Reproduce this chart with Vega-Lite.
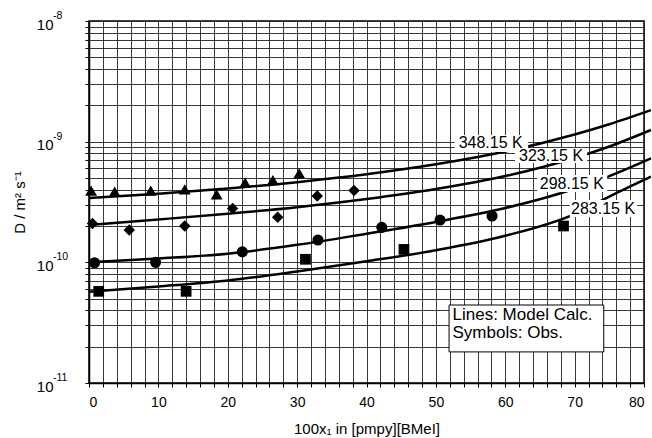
{
  "$schema": "https://vega.github.io/schema/vega-lite/v6.json",
  "width": 555,
  "height": 362,
  "autosize": {"type": "none"},
  "padding": {"left": 89, "top": 21, "right": 8, "bottom": 55},
  "background": "white",
  "config": {
    "font": "Liberation Sans",
    "view": {"stroke": "#000", "strokeWidth": 1.5},
    "axis": {
      "domainColor": "#000", "domainWidth": 1.5,
      "gridColor": "#222", "gridWidth": 1, "gridOpacity": 0.9,
      "tickColor": "#000", "tickSize": 4, "tickWidth": 1,
      "labelFont": "Liberation Sans", "labelFontSize": 14, "labelColor": "#000",
      "labelOverlap": false,
      "titleFont": "Liberation Sans", "titleFontSize": 15, "titleFontWeight": "normal", "titleColor": "#000"
    }
  },
  "datasets": {
    "curves": [
      {"T": "348.15 K", "x": 0, "D": 3.41e-10},
      {"T": "348.15 K", "x": 10, "D": 3.71e-10},
      {"T": "348.15 K", "x": 20, "D": 4.09e-10},
      {"T": "348.15 K", "x": 30, "D": 4.62e-10},
      {"T": "348.15 K", "x": 40, "D": 5.37e-10},
      {"T": "348.15 K", "x": 50, "D": 6.49e-10},
      {"T": "348.15 K", "x": 60, "D": 8.28e-10},
      {"T": "348.15 K", "x": 70, "D": 1.148e-9},
      {"T": "348.15 K", "x": 75, "D": 1.396e-9},
      {"T": "348.15 K", "x": 81, "D": 1.828e-9},
      {"T": "323.15 K", "x": 0, "D": 2.04e-10},
      {"T": "323.15 K", "x": 10, "D": 2.265e-10},
      {"T": "323.15 K", "x": 20, "D": 2.529e-10},
      {"T": "323.15 K", "x": 30, "D": 2.864e-10},
      {"T": "323.15 K", "x": 40, "D": 3.342e-10},
      {"T": "323.15 K", "x": 50, "D": 4.046e-10},
      {"T": "323.15 K", "x": 60, "D": 5.188e-10},
      {"T": "323.15 K", "x": 70, "D": 7.328e-10},
      {"T": "323.15 K", "x": 75, "D": 9.12e-10},
      {"T": "323.15 K", "x": 81, "D": 1.25e-9},
      {"T": "298.15 K", "x": 0, "D": 1.0e-10},
      {"T": "298.15 K", "x": 10, "D": 1.076e-10},
      {"T": "298.15 K", "x": 20, "D": 1.18e-10},
      {"T": "298.15 K", "x": 30, "D": 1.396e-10},
      {"T": "298.15 K", "x": 40, "D": 1.726e-10},
      {"T": "298.15 K", "x": 50, "D": 2.163e-10},
      {"T": "298.15 K", "x": 60, "D": 2.818e-10},
      {"T": "298.15 K", "x": 70, "D": 4.074e-10},
      {"T": "298.15 K", "x": 75, "D": 5.188e-10},
      {"T": "298.15 K", "x": 81, "D": 7.278e-10},
      {"T": "283.15 K", "x": 0, "D": 5.71e-11},
      {"T": "283.15 K", "x": 10, "D": 6.31e-11},
      {"T": "283.15 K", "x": 20, "D": 7.08e-11},
      {"T": "283.15 K", "x": 30, "D": 8.41e-11},
      {"T": "283.15 K", "x": 40, "D": 1.019e-10},
      {"T": "283.15 K", "x": 50, "D": 1.259e-10},
      {"T": "283.15 K", "x": 60, "D": 1.66e-10},
      {"T": "283.15 K", "x": 70, "D": 2.512e-10},
      {"T": "283.15 K", "x": 75, "D": 3.508e-10},
      {"T": "283.15 K", "x": 81, "D": 5.129e-10}
    ],
    "obs": [
      {"T": "348.15 K", "x": 0.3, "D": 3.93e-10},
      {"T": "348.15 K", "x": 3.7, "D": 3.85e-10},
      {"T": "348.15 K", "x": 8.9, "D": 3.93e-10},
      {"T": "348.15 K", "x": 13.8, "D": 4.03e-10},
      {"T": "348.15 K", "x": 18.4, "D": 3.66e-10},
      {"T": "348.15 K", "x": 22.5, "D": 4.57e-10},
      {"T": "348.15 K", "x": 26.5, "D": 4.81e-10},
      {"T": "348.15 K", "x": 30.3, "D": 5.47e-10},
      {"T": "323.15 K", "x": 0.5, "D": 2.1e-10},
      {"T": "323.15 K", "x": 5.8, "D": 1.85e-10},
      {"T": "323.15 K", "x": 13.8, "D": 2.0e-10},
      {"T": "323.15 K", "x": 20.7, "D": 2.8e-10},
      {"T": "323.15 K", "x": 27.2, "D": 2.36e-10},
      {"T": "323.15 K", "x": 32.9, "D": 3.55e-10},
      {"T": "323.15 K", "x": 38.2, "D": 3.93e-10},
      {"T": "298.15 K", "x": 0.8, "D": 9.93e-11},
      {"T": "298.15 K", "x": 9.6, "D": 1.0e-10},
      {"T": "298.15 K", "x": 22.1, "D": 1.22e-10},
      {"T": "298.15 K", "x": 33.0, "D": 1.53e-10},
      {"T": "298.15 K", "x": 42.2, "D": 1.95e-10},
      {"T": "298.15 K", "x": 50.6, "D": 2.24e-10},
      {"T": "298.15 K", "x": 58.1, "D": 2.42e-10},
      {"T": "283.15 K", "x": 1.4, "D": 5.75e-11},
      {"T": "283.15 K", "x": 14.0, "D": 5.75e-11},
      {"T": "283.15 K", "x": 31.2, "D": 1.06e-10},
      {"T": "283.15 K", "x": 45.4, "D": 1.28e-10},
      {"T": "283.15 K", "x": 68.4, "D": 2.0e-10}
    ],
    "labels": [
      {"T": "348.15 K", "x": 57.9, "D": 9.66e-10, "x1": 52.7, "x2": 63.3, "D1": 8.2e-10, "D2": 1.135e-9},
      {"T": "323.15 K", "x": 66.6, "D": 7.67e-10, "x1": 61.4, "x2": 71.8, "D1": 6.65e-10, "D2": 8.87e-10},
      {"T": "298.15 K", "x": 69.6, "D": 4.5e-10, "x1": 64.6, "x2": 74.7, "D1": 3.83e-10, "D2": 5.29e-10},
      {"T": "283.15 K", "x": 74.1, "D": 2.79e-10, "x1": 69.3, "x2": 79.0, "D1": 2.38e-10, "D2": 3.29e-10}
    ],
    "exponents": [
      {"e": "-8", "x": 0, "D": 1e-8},
      {"e": "-9", "x": 0, "D": 1e-9},
      {"e": "-10", "x": 0, "D": 1e-10},
      {"e": "-11", "x": 0, "D": 1e-11}
    ],
    "notebox": [
      {"x1": 51.9, "x2": 74.2, "D1": 1.81e-11, "D2": 4.43e-11}
    ],
    "notes": [
      {"text": "Lines: Model Calc.", "x": 52.4, "D": 3.66e-11},
      {"text": "Symbols: Obs.", "x": 52.4, "D": 2.6e-11}
    ]
  },
  "encoding": {
    "x": {
      "type": "quantitative",
      "scale": {"domain": [0, 80], "nice": false, "zero": false},
      "axis": {
        "values": [0,2,4,6,8,10,12,14,16,18,20,22,24,26,28,30,32,34,36,38,40,42,44,46,48,50,52,54,56,58,60,62,64,66,68,70,72,74,76,78,80],
        "labelExpr": "datum.value % 10 == 0 ? datum.label : ''",
        "labelOverlap": false,
        "grid": true,
        "labelPadding": 8,
        "title": "100x₁ in [pmpy][BMeI]",
        "titlePadding": 12
      }
    },
    "y": {
      "type": "quantitative",
      "scale": {"type": "log", "domain": [1e-11, 1e-8], "nice": false},
      "axis": {
        "values": [1e-11,2e-11,3e-11,4e-11,5e-11,6e-11,7e-11,8e-11,9e-11,1e-10,2e-10,3e-10,4e-10,5e-10,6e-10,7e-10,8e-10,9e-10,1e-9,2e-9,3e-9,4e-9,5e-9,6e-9,7e-9,8e-9,9e-9,1e-8],
        "labelExpr": "abs(log(datum.value)/LN10 - round(log(datum.value)/LN10)) < 0.001 ? '10' : ''",
        "labelOverlap": false,
        "labelPadding": 32,
        "labelOffset": 3,
        "labelFontSize": 15,
        "title": "D / m² s⁻¹",
        "titlePadding": 9
      }
    }
  },
  "layer": [
    {
      "data": {"name": "curves"},
      "mark": {"type": "line", "color": "#000", "strokeWidth": 2.5, "interpolate": "monotone", "clip": false},
      "encoding": {
        "x": {"field": "x", "type": "quantitative"},
        "y": {"field": "D", "type": "quantitative"},
        "detail": {"field": "T"}
      }
    },
    {
      "data": {"name": "exponents"},
      "mark": {"type": "text", "fontSize": 10.5, "color": "#000", "align": "left", "baseline": "middle", "dx": -36, "dy": -5, "clip": false},
      "encoding": {
        "x": {"field": "x", "type": "quantitative"},
        "y": {"field": "D", "type": "quantitative"},
        "text": {"field": "e"}
      }
    },
    {
      "data": {"name": "obs"},
      "mark": {"type": "point", "filled": true, "color": "#000", "opacity": 1},
      "encoding": {
        "x": {"field": "x", "type": "quantitative"},
        "y": {"field": "D", "type": "quantitative"},
        "shape": {
          "field": "T", "type": "nominal",
          "scale": {"domain": ["348.15 K", "323.15 K", "298.15 K", "283.15 K"], "range": ["triangle-up", "diamond", "circle", "square"]},
          "legend": null
        },
        "size": {
          "field": "T", "type": "nominal",
          "scale": {"domain": ["348.15 K", "323.15 K", "298.15 K", "283.15 K"], "range": [140, 115, 120, 100]},
          "legend": null
        }
      }
    },
    {
      "data": {"name": "labels"},
      "mark": {"type": "rect", "fill": "white", "stroke": null},
      "encoding": {
        "x": {"field": "x1", "type": "quantitative"},
        "x2": {"field": "x2"},
        "y": {"field": "D1", "type": "quantitative"},
        "y2": {"field": "D2"}
      }
    },
    {
      "data": {"name": "labels"},
      "mark": {"type": "text", "fontSize": 16, "color": "#000", "align": "center", "baseline": "middle"},
      "encoding": {
        "x": {"field": "x", "type": "quantitative"},
        "y": {"field": "D", "type": "quantitative"},
        "text": {"field": "T"}
      }
    },
    {
      "data": {"name": "notebox"},
      "mark": {"type": "rect", "fill": "white", "stroke": "#000", "strokeWidth": 1},
      "encoding": {
        "x": {"field": "x1", "type": "quantitative"},
        "x2": {"field": "x2"},
        "y": {"field": "D1", "type": "quantitative"},
        "y2": {"field": "D2"}
      }
    },
    {
      "data": {"name": "notes"},
      "mark": {"type": "text", "fontSize": 17, "color": "#000", "align": "left", "baseline": "middle"},
      "encoding": {
        "x": {"field": "x", "type": "quantitative"},
        "y": {"field": "D", "type": "quantitative"},
        "text": {"field": "text"}
      }
    }
  ]
}
